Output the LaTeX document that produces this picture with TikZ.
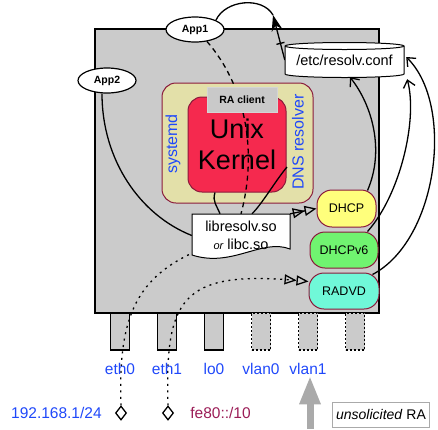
\documentclass[tikz,border=0pt]{standalone}
\usepackage{fontspec}
\setmainfont{Liberation Sans}
\usepackage{tikz}
\usetikzlibrary{positioning, shapes.geometric, arrows.meta}
\definecolor{boxgray}{HTML}{CBCBCB}
\definecolor{sdyellow}{HTML}{E3E0A9}
\definecolor{kernred}{HTML}{F5294E}
\definecolor{rimred}{HTML}{8A1A3B}
\definecolor{dhcpyellow}{HTML}{FFFF7C}
\definecolor{dhcpgreen}{HTML}{70F470}
\definecolor{radvdcyan}{HTML}{70F8D8}
\definecolor{ifblue}{HTML}{1F48FA}
\definecolor{llpurple}{HTML}{9B1D57}
\definecolor{ragray}{HTML}{AAAAAA}
\definecolor{raclgray}{HTML}{C9C9C9}
\pgfdeclarelayer{back}
\pgfdeclarelayer{wires}
\pgfsetlayers{back,wires,main}
\tikzset{
appnode/.style={ellipse, draw, line width=1.2pt, fill=white, inner sep=0pt, minimum width=58pt, minimum height=25pt, font=\fontsize{10.5}{12}\selectfont\bfseries}, % App1, App2
port/.style={draw, line width=1.1pt, fill=boxgray, minimum width=19pt, minimum height=37pt, inner sep=0pt}, % interfaces under the host
vport/.style={port, dash pattern=on 2pt off 2pt}, % virtual interfaces
portlab/.style={text=ifblue, font=\fontsize{15.5}{18}\selectfont, inner sep=2pt},
daemon/.style={draw=rimred, line width=1pt, rounded corners=15pt, minimum height=37pt, inner sep=0pt, font=\fontsize{12.5}{14}\selectfont},
jack/.style={diamond, draw, line width=1.3pt, fill=white, minimum width=11pt, minimum height=14pt, inner sep=0pt},
wire/.style={line width=1.3pt},
cable/.style={line width=1.3pt, dash pattern=on 2pt off 4.5pt}, % dotted network links
twotri/.style={-{Triangle[open,length=12pt,width=10pt]Triangle[open,length=12pt,width=10pt]}},
barb/.style={-{Straight Barb[length=7pt,width=12pt]}},
}

\begin{document}
\begin{tikzpicture}[x=1pt, y=-1pt]
\useasboundingbox (0,0) rectangle (438,429);

\begin{pgfonlayer}{back}
\node[draw, line width=1.3pt, fill=boxgray, minimum width=284pt, minimum height=284pt, inner sep=0pt] (host) at (237,171) {};
\node[port] (eth0) at (120,331.5) {};
\node[port] (eth1) at (167,331.5) {};
\node[port] (lo0) at (214,331.5) {};
\node[vport] (vlan0) at (261,331.5) {};
\node[vport] (vlan1) at (308,331.5) {};
\node[vport] (vlan2) at (355,331.5) {};
\node[draw=rimred, line width=1pt, fill=sdyellow, rounded corners=14pt, minimum width=151pt, minimum height=120pt] (systemd) at (237.5,143) {};
\node[rotate=90, text=ifblue, font=\fontsize{16}{18}\selectfont] (sdlab) at (173,144) {systemd};
\node[rotate=90, text=ifblue, font=\fontsize{16}{18}\selectfont] (dnslab) at (298,142) {DNS resolver};
\node[draw=rimred, line width=1pt, fill=kernred, rounded corners=14pt, minimum width=98pt, minimum height=95pt, align=center, font=\fontsize{27}{31}\selectfont] (kernel) at (237,144.5) {Unix\\Kernel};
\end{pgfonlayer}

\node[appnode] (app1) at (195,29.5) {App1};
\node[appnode] (app2) at (107,80.5) {App2};
\node[draw=raclgray!80!white, fill=raclgray, minimum width=70pt, minimum height=25pt, font=\fontsize{10.5}{12}\selectfont\bfseries] (raclient) at (242,99.5) {RA client};

% resolv.conf as a cylinder
\filldraw[fill=white, line width=1pt] (285,46) -- (285,74) arc[start angle=180, end angle=360, x radius=59.5pt, y radius=3.5pt] -- (404,46) arc[start angle=0, end angle=180, x radius=59.5pt, y radius=3.5pt] -- cycle;
\draw[line width=1pt] (285,46) arc[start angle=180, end angle=360, x radius=59.5pt, y radius=3.5pt];
\node[font=\fontsize{14.5}{17}\selectfont, minimum width=119pt, minimum height=28pt, inner sep=0pt] (resolv) at (344.5,60) {/etc/resolv.conf};

% library as a document shape
\filldraw[fill=white, line width=1pt] (192,214) -- (290,214) -- (290,249) .. controls (262,238) and (232,268) .. (192,255) -- cycle;
\node[align=center, minimum width=98pt, minimum height=43pt, inner sep=0pt, font=\fontsize{14.5}{18}\selectfont] (libresolv) at (241,235.5) {libresolv.so\\{\fontsize{11}{12}\selectfont\itshape or} libc.so};

\node[daemon, fill=dhcpyellow, minimum width=59pt] (dhcp) at (346.5,208.5) {DHCP};
\node[daemon, fill=dhcpgreen, minimum width=68pt, minimum height=36pt] (dhcpsix) at (344,250) {DHCPv6};
\node[daemon, fill=radvdcyan, minimum width=70pt, minimum height=36pt] (radvd) at (344,291) {RADVD};

\node[portlab, below=11pt of eth0] (eth0lab) {eth0};
\node[portlab, below=11pt of eth1] (eth1lab) {eth1};
\node[portlab, below=11pt of lo0] (lo0lab) {lo0};
\node[portlab, below=11pt of vlan0] (vlan0lab) {vlan0};
\node[portlab, below=11pt of vlan1] (vlan1lab) {vlan1};

\node[jack] (d0) at (121,413) {};
\node[jack] (d1) at (168,413) {};
\node[portlab, left=11pt of d0] (v4net) {192.168.1/24};
\node[portlab, text=llpurple, right=14pt of d1] (v6net) {fe80::/10};

\node[draw=ragray, line width=1pt, fill=white, font=\fontsize{14}{16}\selectfont, inner sep=4pt, minimum height=25pt] (ralab) at (381,414.5) {\textit{unsolicited} RA};
\coordinate (raorig) at (310,429);
\draw[line width=7pt, ragray, -{Triangle[length=27pt,width=22pt,line width=0pt]}] (raorig) -- (raorig |- vlan1lab.south);

\begin{pgfonlayer}{wires}
\coordinate (apptip) at (273,15);
\coordinate (resolved) at (287,167);
\draw[wire] (app1.north east) .. controls (225,0) and (262,-4) .. (apptip);
\draw[wire, -{Stealth[length=16pt,width=11pt]}] (resolv.west) -- coordinate[pos=.37] (tick) (apptip);
\draw[wire] (tick) +(-4,1) -- +(4,-1);
\draw[wire, dash pattern=on 5pt off 4pt] (app1.-45) .. controls (245,85) and (258,150) .. (libresolv.north);
\draw[wire] ([xshift=-5pt]app2.south) .. controls (102,160) and (140,215) .. (libresolv.west);
\draw[wire] ([xshift=-22pt]kernel.south) .. controls +(-3,9) and +(-3,-8) .. ([xshift=-21pt]libresolv.north);
\draw[wire] ([xshift=11pt]libresolv.north) .. controls (262,204) and (276,180) .. (resolved);
\draw[wire, twotri] (libresolv.north east) -- (dhcp.west);
\draw[cable] (d0.north) .. controls (118,320) and (135,280) .. ([yshift=4pt]libresolv.south west);
\draw[cable, twotri] (d1.north) .. controls (165,300) and (180,270) .. (radvd.165);
\draw[wire, barb] ([xshift=-9pt,yshift=-1pt]dhcp.north east) .. controls (385,150) and (372,105) .. ([xshift=5.5pt,yshift=-3pt]resolv.south);
\draw[wire, barb] ([xshift=-11pt]dhcpsix.north east) .. controls (400,195) and (418,120) .. ([xshift=3pt,yshift=-5pt]resolv.south east);
\draw[wire, barb] ([xshift=-7pt,yshift=-2pt]radvd.north east) .. controls (438,240) and (455,105) .. ([xshift=2pt,yshift=3pt]resolv.east);
\end{pgfonlayer}
\end{tikzpicture}
\end{document}
